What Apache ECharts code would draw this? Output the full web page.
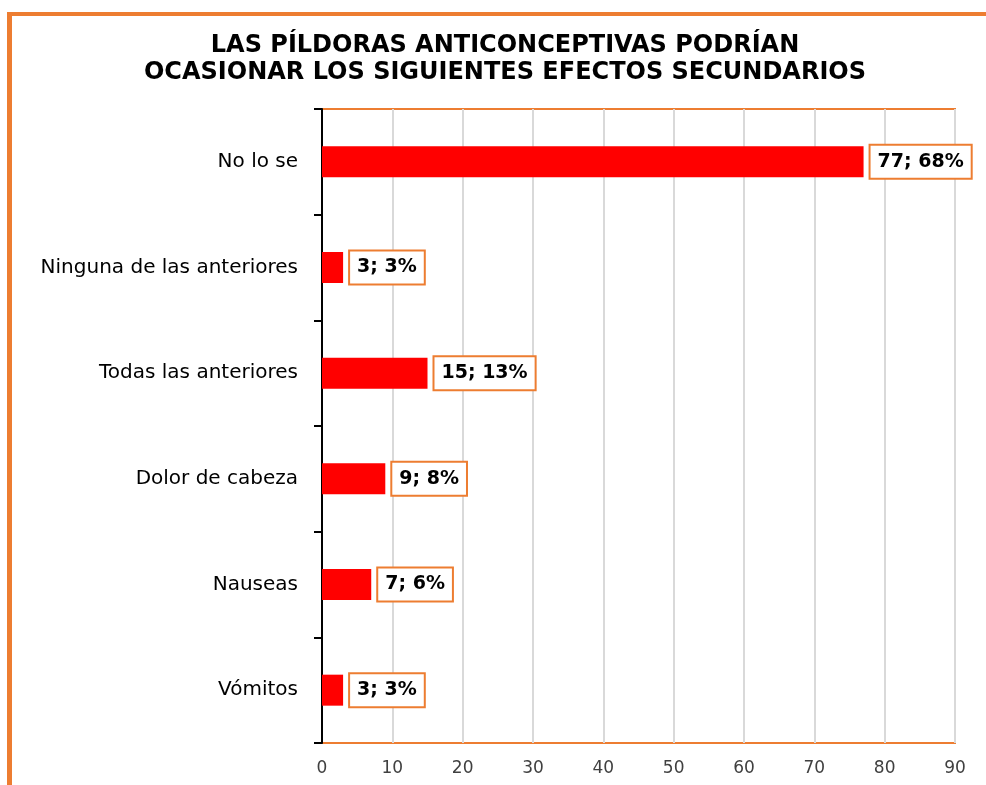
<!DOCTYPE html>
<html>
<head>
<meta charset="utf-8">
<script src="https://cdn.jsdelivr.net/npm/echarts@6/dist/echarts.min.js"></script>
<style>
  html, body { margin: 0; padding: 0; background: #fff; }
  #chart { width: 986px; height: 785px; }
</style>
</head>
<body>
<div id="chart"></div>
<script>
// datos del grafico
var categorias = ['No lo se', 'Ninguna de las anteriores', 'Todas las anteriores', 'Dolor de cabeza', 'Nauseas', 'Vómitos'];
var valores = [77, 3, 15, 9, 7, 3];
var porcentajes = [68, 3, 13, 8, 6, 3];
var ejeX = [0, 10, 20, 30, 40, 50, 60, 70, 80, 90];

var naranja = '#ed7d31';

var myChart = echarts.init(document.getElementById('chart'));
var option = {
	backgroundColor: '#fff',
	title: {
		text: 'LAS PÍLDORAS ANTICONCEPTIVAS PODRÍAN\nOCASIONAR LOS SIGUIENTES EFECTOS SECUNDARIOS',
		left: 500,
		textAlign: 'center',
		top: 27,
		textStyle: {
			fontFamily: 'DejaVu Sans',
			fontWeight: 'bold',
			fontSize: 24,
			lineHeight: 27,
			color: '#000'
		}
	},
	// marco exterior naranja
	graphic: [
		{ type: 'rect', shape: { x: 7, y: 12, width: 979, height: 4 }, style: { fill: naranja } },
		{ type: 'rect', shape: { x: 7, y: 12, width: 5, height: 773 }, style: { fill: naranja } }
	],
	grid: {
		left: 322,
		right: 31,
		top: 109,
		bottom: 42,
		show: true,
		borderColor: naranja,
		borderWidth: 2,
		containLabel: false
	},
	xAxis: {
		type: 'value',
		min: ejeX[0],
		max: ejeX[ejeX.length - 1],
		interval: 10,
		axisLine: { show: false },
		axisTick: { show: false },
		splitLine: { lineStyle: { color: '#d9d9d9', width: 2 } },
		axisLabel: {
			margin: 17,
			fontFamily: 'DejaVu Sans',
			fontSize: 17,
			color: '#404040'
		}
	},
	yAxis: {
		type: 'category',
		inverse: true,
		data: categorias,
		axisLine: { show: true, onZero: false, lineStyle: { color: '#000', width: 2 } },
		axisTick: { show: true, length: 8, lineStyle: { color: '#000', width: 2 } },
		axisLabel: {
			margin: 24,
			fontFamily: 'DejaVu Sans',
			fontSize: 20,
			color: '#000'
		}
	},
	series: [{
		type: 'bar',
		data: valores,
		barWidth: 31,
		itemStyle: { color: '#ff0000' },
		label: {
			show: true,
			position: 'right',
			distance: 7,
			formatter: function (p) {
				return p.value + '; ' + porcentajes[p.dataIndex] + '%';
			},
			fontFamily: 'DejaVu Sans',
			fontWeight: 'bold',
			fontSize: 19,
			color: '#000',
			backgroundColor: '#fff',
			borderColor: naranja,
			borderWidth: 2,
			padding: [7, 7, 6, 7]
		}
	}]
};
myChart.setOption(option);
</script>
</body>
</html>
